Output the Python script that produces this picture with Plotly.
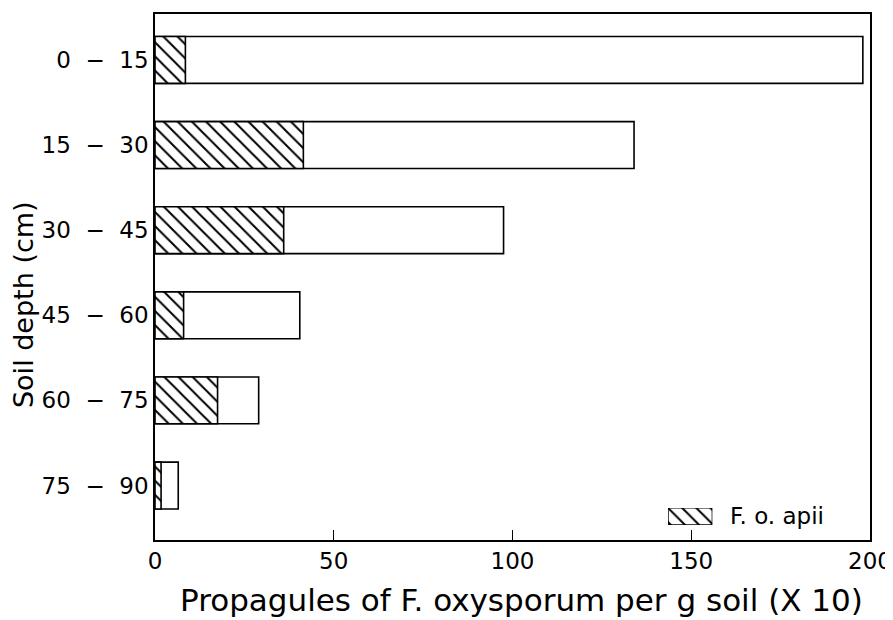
import plotly.graph_objects as go

NB = "\u00a0\u00a0"
depths = [f"0{NB}−{NB}15", f"15{NB}−{NB}30", f"30{NB}−{NB}45",
          f"45{NB}−{NB}60", f"60{NB}−{NB}75", f"75{NB}−{NB}90"]
total = [198, 134, 97.5, 40.5, 29, 6.5]
apii = [8.5, 41.5, 36, 8, 17.5, 1.7]
xticks = [0, 50, 100, 150, 200]
legend_label = "F. o. apii"
x_title = "Propagules of F. oxysporum per g soil (X 10)"
y_title = "Soil depth (cm)"

pos = list(range(len(depths)))
FONT = "DejaVu Sans"
pattern = dict(shape="\\", fgcolor="black", bgcolor="white", size=10,
               solidity=0.2, fgopacity=1)

fig = go.Figure()
fig.add_trace(go.Bar(
    y=pos, x=total, orientation="h", width=0.55,
    marker=dict(color="white", line=dict(color="black", width=1.6)),
    showlegend=False, hoverinfo="x",
))
fig.add_trace(go.Bar(
    y=pos, x=apii, orientation="h", width=0.55, name=legend_label,
    marker=dict(color="white", line=dict(color="black", width=1.6), pattern=pattern),
    showlegend=False,
))
# legend swatch drawn on a tiny auxiliary axis
fig.add_trace(go.Bar(
    y=[0], x=[1], orientation="h", width=1, xaxis="x2", yaxis="y2",
    marker=dict(color="white", line=dict(color="black", width=1.4), pattern=pattern),
    showlegend=False, hoverinfo="skip",
))

fig.update_layout(
    width=885, height=612,
    margin=dict(l=147, r=23, t=6, b=80),
    paper_bgcolor="white", plot_bgcolor="white",
    barmode="overlay",
    showlegend=False,
    font=dict(family=FONT, color="black", size=23),
    xaxis=dict(range=[0, 200], tickvals=xticks, ticks="inside", ticklen=10,
               tickwidth=1.3, tickcolor="black", showgrid=False, zeroline=False,
               showline=True, linecolor="black", linewidth=1.6, mirror=True,
               tickfont=dict(size=23), automargin=False),
    yaxis=dict(range=[5.64, -0.54], tickvals=pos, ticktext=depths,
               ticks="", showgrid=False, zeroline=False,
               showline=True, linecolor="black", linewidth=1.6, mirror=True,
               tickfont=dict(size=23), automargin=False, ticklabelstandoff=0),
    xaxis2=dict(domain=[0.7175, 0.7795], range=[0, 1], visible=False,
                fixedrange=True, anchor="y2"),
    yaxis2=dict(domain=[0.0285, 0.061], range=[-0.5, 0.5], visible=False,
                fixedrange=True, anchor="x2"),
    annotations=[
        dict(text=legend_label, xref="paper", yref="paper",
             x=0.801, y=0.045, xanchor="left", yanchor="middle",
             showarrow=False, font=dict(size=23, family=FONT)),
        dict(text=x_title, xref="paper", yref="paper",
             x=0.513, y=-0.114, xanchor="center", yanchor="middle",
             showarrow=False, font=dict(size=31, family=FONT)),
        dict(text=y_title, xref="paper", yref="paper", textangle=-90,
             x=-0.183, y=0.447, xanchor="center", yanchor="middle",
             showarrow=False, font=dict(size=27, family=FONT)),
    ],
)

fig.write_html("out.html")
